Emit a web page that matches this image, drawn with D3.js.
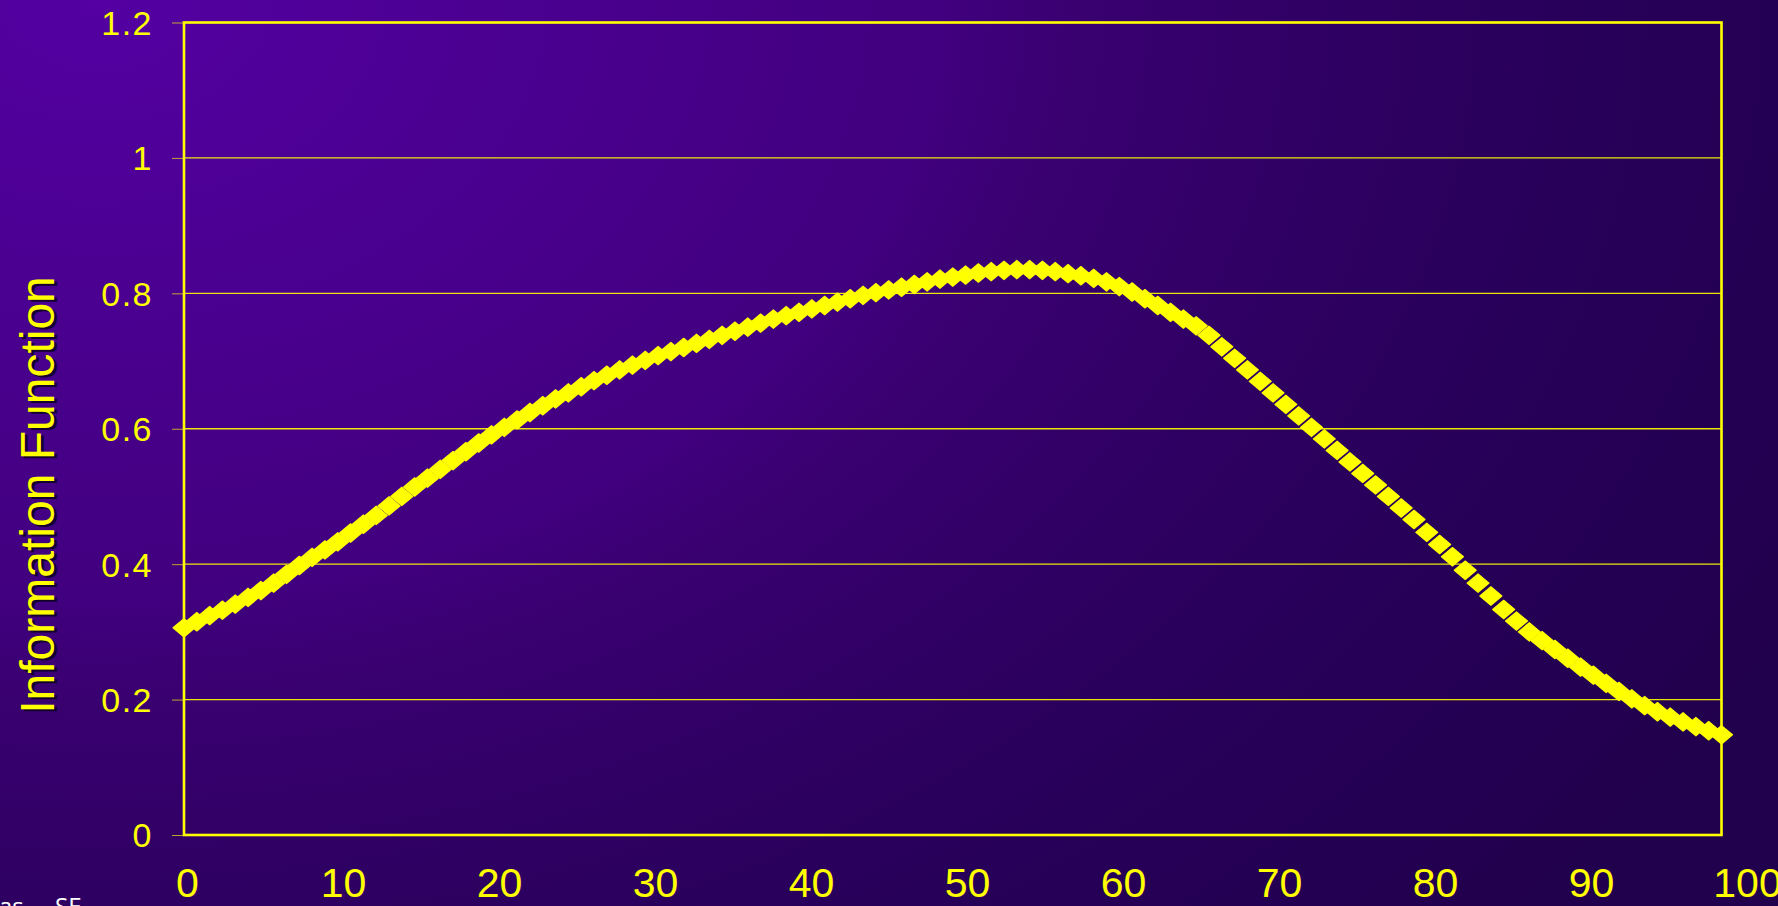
<!DOCTYPE html>
<html>
<head>
<meta charset="utf-8">
<script src="https://cdn.jsdelivr.net/npm/d3@7"></script>
<style>
  html, body { margin: 0; padding: 0; background: #2a0058; overflow: hidden; }
  svg { display: block; }
</style>
</head>
<body>
<svg id="chart" width="1778" height="906"></svg>
<script>
// Test information function sampled across the score scale (121 points, 0..100)
const xStep = 100 / 120;
const info = [
  0.306, 0.315, 0.324, 0.332, 0.341, 0.351, 0.361, 0.372, 0.385, 0.398,
  0.410, 0.421, 0.433, 0.446, 0.459, 0.472, 0.486, 0.500, 0.514, 0.527,
  0.540, 0.553, 0.566, 0.579, 0.591, 0.602, 0.613, 0.624, 0.634, 0.644,
  0.653, 0.662, 0.671, 0.679, 0.687, 0.694, 0.701, 0.708, 0.714, 0.720,
  0.726, 0.732, 0.738, 0.744, 0.750, 0.756, 0.762, 0.767, 0.772, 0.777,
  0.782, 0.787, 0.792, 0.797, 0.801, 0.805, 0.809, 0.813, 0.817, 0.821,
  0.824, 0.827, 0.830, 0.832, 0.834, 0.835, 0.835, 0.834, 0.832, 0.829,
  0.826, 0.822, 0.817, 0.810, 0.802, 0.792, 0.782, 0.772, 0.762, 0.752,
  0.738, 0.721, 0.704, 0.687, 0.670, 0.653, 0.636, 0.619, 0.602, 0.585,
  0.568, 0.551, 0.534, 0.517, 0.500, 0.483, 0.466, 0.447, 0.429, 0.411,
  0.391, 0.372, 0.353, 0.333, 0.316, 0.300, 0.287, 0.274, 0.261, 0.248,
  0.236, 0.224, 0.212, 0.201, 0.191, 0.182, 0.174, 0.167, 0.160, 0.154,
  0.148
];
const yTicks = [0, 0.2, 0.4, 0.6, 0.8, 1, 1.2];
const yTickLabels = ["0", "0.2", "0.4", "0.6", "0.8", "1", "1.2"];
const xTicks = [0, 10, 20, 30, 40, 50, 60, 70, 80, 90, 100];
const yTitle = "Information Function";

const points = info.map((v, i) => ({ x: i * xStep, y: v }));

const svg = d3.select("#chart");
const W = 1778, H = 906;
const plot = { left: 184, right: 1721.5, top: 22.5, bottom: 835 };
const YELLOW = "#FFFF00";

// Background: purple glow from the upper-left corner fading to deep violet
const defs = svg.append("defs");
const bg = defs.append("radialGradient")
  .attr("id", "bgGrad")
  .attr("gradientUnits", "userSpaceOnUse")
  .attr("cx", 100).attr("cy", 0).attr("r", 1900)
  .attr("fx", 100).attr("fy", 0)
  .attr("gradientTransform", "translate(100,0) scale(1,0.714) translate(-100,0)");
[
  [0, "#5400A2"], [0.44, "#41007F"], [0.51, "#3A0071"],
  [0.65, "#2F0063"], [0.77, "#28005A"], [1, "#21004D"]
].forEach(([o, c]) => bg.append("stop").attr("offset", o).attr("stop-color", c));

svg.append("rect").attr("width", W).attr("height", H).attr("fill", "url(#bgGrad)");

const x = d3.scaleLinear().domain([0, 100]).range([plot.left, plot.right]);
const y = d3.scaleLinear().domain([0, 1.2]).range([plot.bottom, plot.top]);
// category labels along the bottom sit on a slightly wider span than the plot
const xLab = d3.scaleLinear().domain([0, 100]).range([187, 1747]);

// Horizontal gridlines
svg.append("g")
  .selectAll("line")
  .data(yTicks.filter(t => t > 0 && t < 1.2))
  .join("line")
  .attr("x1", plot.left).attr("x2", plot.right)
  .attr("y1", d => y(d)).attr("y2", d => y(d))
  .attr("stroke", YELLOW).attr("stroke-width", 1.3).attr("stroke-opacity", 0.9);

// Y axis with outward ticks
const yAxis = d3.axisLeft(y)
  .tickValues(yTicks)
  .tickFormat((d, i) => yTickLabels[i])
  .tickSize(12)
  .tickPadding(19);
const gy = svg.append("g").attr("transform", `translate(${plot.left},0)`).call(yAxis);
gy.select(".domain").remove();
gy.selectAll(".tick line").attr("stroke", YELLOW).attr("stroke-opacity", 0.65).attr("stroke-width", 1);
gy.selectAll(".tick text")
  .attr("fill", YELLOW)
  .attr("font-family", "'Liberation Sans', Arial, sans-serif")
  .attr("font-size", 34)
  .attr("letter-spacing", 1.5)
  .attr("dy", "0.35em");

// X labels (no tick marks)
const xAxis = d3.axisBottom(xLab).tickValues(xTicks).tickFormat(d3.format("d")).tickSize(0).tickPadding(0);
const gx = svg.append("g").attr("transform", `translate(0,${plot.bottom})`).call(xAxis);
gx.select(".domain").remove();
gx.selectAll(".tick text")
  .attr("fill", YELLOW)
  .attr("font-family", "'Liberation Sans', Arial, sans-serif")
  .attr("font-size", 41)
  .attr("dy", null)
  .attr("y", 62);

// Plot frame
svg.append("rect")
  .attr("x", plot.left).attr("y", plot.top)
  .attr("width", plot.right - plot.left).attr("height", plot.bottom - plot.top)
  .attr("fill", "none").attr("stroke", YELLOW).attr("stroke-width", 2.6);

// Diamond markers (slightly wider than tall)
const diamond = "M0,-9.2L11,0L0,9.2L-11,0Z";
svg.append("g")
  .selectAll("path")
  .data(points)
  .join("path")
  .attr("d", diamond)
  .attr("transform", d => `translate(${x(d.x)},${y(d.y)})`)
  .attr("fill", YELLOW)
  .attr("stroke", YELLOW).attr("stroke-width", 1.2).attr("stroke-linejoin", "round");

// Y-axis title with drop shadow
const titleG = svg.append("g").attr("transform", "translate(54,495) rotate(-90)");
titleG.append("text")
  .attr("x", -2).attr("y", 2.5)
  .attr("text-anchor", "middle")
  .attr("font-family", "'Liberation Sans', Arial, sans-serif")
  .attr("font-size", 48)
  .attr("fill", "#0a0020").attr("fill-opacity", 0.85)
  .text(yTitle);
titleG.append("text")
  .attr("x", 0).attr("y", 0)
  .attr("text-anchor", "middle")
  .attr("font-family", "'Liberation Sans', Arial, sans-serif")
  .attr("font-size", 48)
  .attr("fill", YELLOW)
  .text(yTitle);

// Footer caption clipped at the lower edge
const foot = svg.append("g")
  .attr("font-family", "'Open Sans', 'Noto Sans', sans-serif")
  .attr("font-size", 24)
  .attr("fill", "#ffffff");
foot.append("text").attr("x", -1).attr("y", 915).text("as");
foot.append("text").attr("x", 55).attr("y", 915).text("SE");
</script>
</body>
</html>
